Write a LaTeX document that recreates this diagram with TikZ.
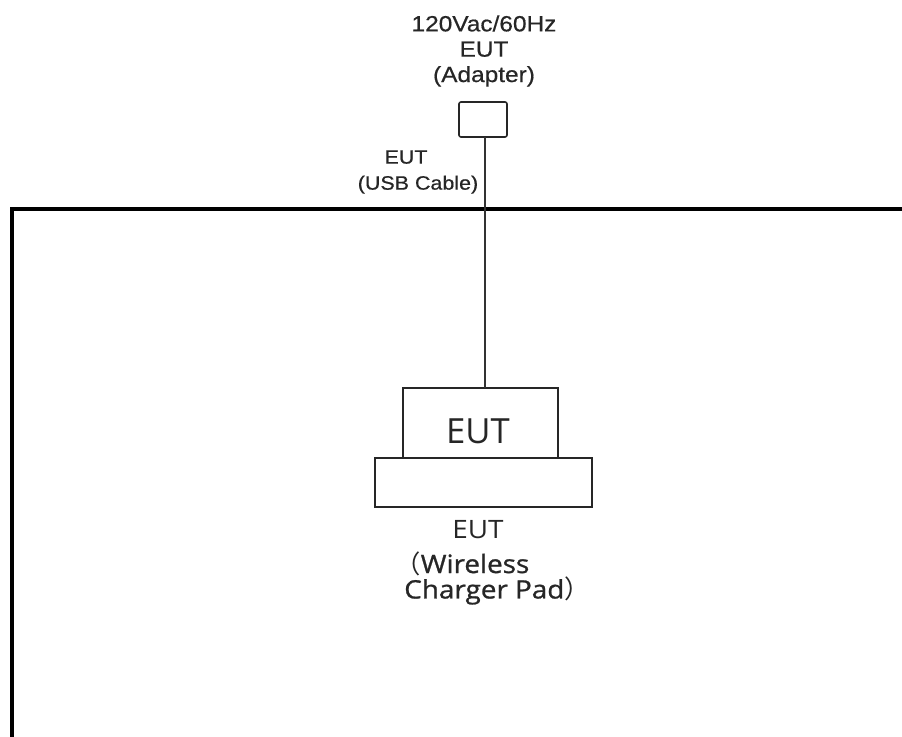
\documentclass[tikz,border=0pt]{standalone}
\usepackage{fontspec}
\setmainfont{Liberation Sans}
\newfontfamily\labfont[FakeStretch=1.11,FakeBold=0.6]{Liberation Sans}
\newfontfamily\padfont{Open Sans}
\newfontfamily\padwide[FakeStretch=1.1]{Open Sans}
\newfontfamily\padwidebold[FakeStretch=1.1,FakeBold=1]{Open Sans}
\newfontfamily\cjk{Noto Sans CJK SC}
\begin{document}
\begin{tikzpicture}[x=0.75pt,y=-0.75pt,
  thin box/.style={draw=black!85,line width=1.2pt,inner sep=0pt},
  wire/.style={draw=black!80,line width=1.1pt},
  frame/.style={draw=black,line width=3pt,line cap=rect},
  toplabel/.style={align=center,text=black!85,inner sep=0pt},
  padlabel/.style={text=black!85,inner sep=0pt}]
\useasboundingbox (0,0) rectangle (902,737);
% frame
\draw[frame] (12,740) -- (12,209) -- (905,209);
% adapter
\node[toplabel,font=\labfont\fontsize{16.5}{19}\selectfont] (adlab) at (484,51) {120Vac/60Hz\\EUT\\(Adapter)};
\draw[thin box,rounded corners=1.5pt] (459,102) rectangle (507,137);
\coordinate (adbot) at (485,137);
\node[toplabel,font=\labfont\fontsize{14.5}{19.5}\selectfont] (usblab) at (418,172) {EUT\hspace*{18pt}\\(USB Cable)};
% EUT device
\draw[thin box] (403,457) -- (403,388) -- (558,388) -- (558,457);
\node[padlabel,align=center,font=\padfont\fontsize{26}{26}\selectfont] (eut) at (478,431) {EUT};
\coordinate (euttop) at (485,388);
% pad
\draw[thin box] (375,458) rectangle (592,507);
\node[padlabel,align=left,anchor=north west,font=\padwide\fontsize{19}{18}\selectfont] (padlab) at (404,520)
  {\hspace*{36pt}EUT\\[8pt]\hspace*{-0.35em}{\cjk （}{\padwidebold Wireless}\\{\padwidebold Charger Pad}{\cjk ）}};
% cable
\draw[wire] (adbot) -- (euttop);
\end{tikzpicture}
\end{document}
